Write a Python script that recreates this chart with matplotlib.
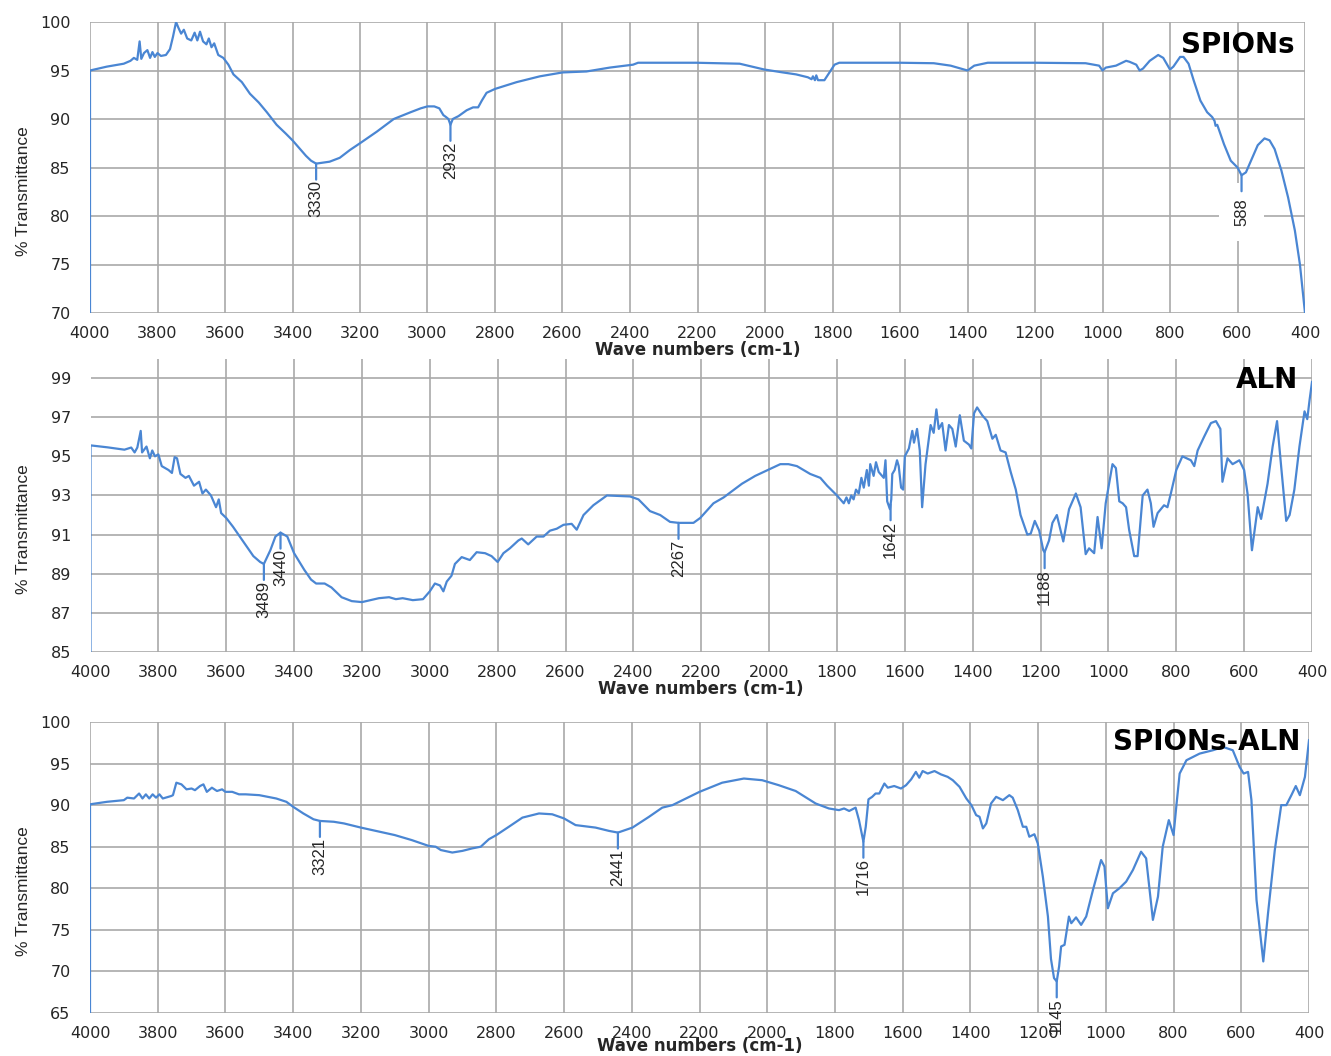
import numpy as np
import matplotlib
matplotlib.use("Agg")
import matplotlib.pyplot as plt

# ---------------------------------------------------------------- data
# FTIR spectra: (wave number in cm-1, % transmittance)
spions_pts = [
    (4000, 0.0), (4000, 95.0), (3950, 95.4), (3900, 95.7), (3880, 96.0), (3870, 96.3),
    (3860, 96.1), (3853, 98.0), (3848, 96.2), (3840, 96.8), (3830, 97.1), (3822, 96.3),
    (3815, 96.9), (3808, 96.4), (3800, 96.8), (3790, 96.5), (3775, 96.6), (3763, 97.2),
    (3754, 98.5), (3745, 100.0), (3738, 99.4), (3730, 98.8), (3722, 99.2), (3712, 98.3),
    (3700, 98.1), (3690, 98.9), (3682, 98.1), (3674, 99.0), (3665, 98.0), (3655, 97.7),
    (3648, 98.3), (3640, 97.4), (3632, 97.8), (3620, 96.6), (3605, 96.3), (3590, 95.6),
    (3575, 94.6), (3550, 93.8), (3526, 92.6), (3500, 91.7), (3476, 90.7), (3447, 89.4),
    (3420, 88.5), (3400, 87.8), (3380, 87.0), (3360, 86.2), (3345, 85.7), (3330, 85.4),
    (3310, 85.5), (3290, 85.6), (3260, 86.0), (3230, 86.8), (3200, 87.5), (3150, 88.7),
    (3100, 90.0), (3050, 90.7), (3020, 91.1), (3000, 91.3), (2980, 91.3), (2965, 91.1),
    (2953, 90.4), (2945, 90.2), (2938, 90.0), (2932, 89.4), (2925, 90.0), (2908, 90.3),
    (2884, 90.9), (2865, 91.2), (2850, 91.2), (2839, 91.9), (2825, 92.7), (2800, 93.1),
    (2736, 93.8), (2667, 94.4), (2600, 94.8), (2529, 94.9), (2460, 95.3), (2391, 95.6),
    (2376, 95.8), (2300, 95.8), (2204, 95.8), (2075, 95.7), (2002, 95.1), (1947, 94.8),
    (1908, 94.6), (1873, 94.3), (1862, 94.1), (1858, 94.4), (1852, 94.0), (1848, 94.5),
    (1843, 94.0), (1839, 94.0), (1824, 94.0), (1809, 94.8), (1794, 95.6), (1780, 95.8),
    (1700, 95.8), (1600, 95.8), (1500, 95.75), (1450, 95.5), (1400, 95.0), (1380, 95.5),
    (1340, 95.8), (1200, 95.8), (1050, 95.75), (1010, 95.5), (1000, 95.0), (990, 95.3),
    (960, 95.5), (930, 96.0), (920, 95.9), (900, 95.6), (890, 95.0), (880, 95.2),
    (860, 96.0), (835, 96.6), (820, 96.3), (800, 95.1), (790, 95.4), (770, 96.4),
    (760, 96.4), (745, 95.7), (730, 94.0), (710, 91.9), (690, 90.7), (675, 90.2),
    (668, 89.8), (665, 89.3), (660, 89.4), (640, 87.4), (620, 85.7), (600, 85.0),
    (588, 84.2), (575, 84.5), (560, 85.7), (540, 87.3), (520, 88.0), (505, 87.8),
    (490, 86.9), (470, 84.7), (450, 81.9), (430, 78.5), (415, 75.0), (400, 70.0),
]

aln_pts = [
    (4000, 0.0), (4000, 95.56), (3950, 95.46), (3900, 95.34), (3880, 95.45), (3870, 95.2),
    (3862, 95.45), (3852, 96.3), (3848, 95.2), (3835, 95.5), (3825, 94.9), (3818, 95.3),
    (3810, 95.0), (3800, 95.1), (3790, 94.5), (3770, 94.3), (3760, 94.15), (3752, 94.96),
    (3745, 94.9), (3735, 94.1), (3720, 93.9), (3710, 94.0), (3695, 93.5), (3680, 93.7),
    (3670, 93.1), (3660, 93.3), (3645, 93.0), (3630, 92.4), (3622, 92.8), (3615, 92.1),
    (3600, 91.85), (3580, 91.4), (3560, 90.9), (3540, 90.4), (3520, 89.9), (3500, 89.6),
    (3489, 89.5), (3470, 90.2), (3455, 90.9), (3440, 91.1), (3420, 90.9), (3400, 90.05),
    (3370, 89.2), (3350, 88.7), (3335, 88.5), (3310, 88.5), (3290, 88.3), (3260, 87.8),
    (3230, 87.6), (3200, 87.55), (3150, 87.75), (3120, 87.8), (3100, 87.7), (3080, 87.75),
    (3050, 87.65), (3020, 87.7), (3000, 88.1), (2985, 88.5), (2970, 88.4), (2960, 88.1),
    (2950, 88.6), (2936, 88.9), (2926, 89.5), (2906, 89.85), (2882, 89.7), (2862, 90.1),
    (2837, 90.05), (2818, 89.9), (2800, 89.6), (2783, 90.05), (2764, 90.3), (2739, 90.7),
    (2729, 90.8), (2710, 90.5), (2685, 90.9), (2665, 90.9), (2646, 91.2), (2626, 91.3),
    (2606, 91.5), (2582, 91.55), (2567, 91.25), (2547, 92.0), (2518, 92.5), (2478, 93.0),
    (2410, 92.95), (2385, 92.8), (2351, 92.2), (2321, 92.0), (2292, 91.65), (2267, 91.6),
    (2223, 91.6), (2203, 91.85), (2164, 92.6), (2134, 92.9), (2080, 93.6), (2041, 94.0),
    (1967, 94.6), (1943, 94.6), (1918, 94.5), (1879, 94.1), (1849, 93.9), (1829, 93.5),
    (1800, 93.0), (1780, 92.6), (1772, 92.9), (1765, 92.6), (1758, 93.0), (1751, 92.8),
    (1744, 93.3), (1736, 93.1), (1728, 93.9), (1721, 93.4), (1712, 94.3), (1706, 93.5),
    (1702, 94.6), (1692, 94.0), (1685, 94.7), (1677, 94.2), (1672, 94.1), (1662, 93.9),
    (1657, 94.8), (1652, 92.7), (1644, 92.3), (1640, 92.8), (1637, 94.1), (1630, 94.3),
    (1623, 94.8), (1618, 94.5), (1611, 93.4), (1605, 93.3), (1600, 95.0), (1588, 95.4),
    (1578, 96.3), (1573, 95.7), (1564, 96.4), (1556, 95.3), (1549, 92.4), (1539, 94.6),
    (1524, 96.6), (1515, 96.2), (1507, 97.4), (1500, 96.4), (1490, 96.7), (1480, 95.3),
    (1470, 96.6), (1460, 96.4), (1450, 95.5), (1438, 97.1), (1426, 95.8), (1411, 95.6),
    (1404, 95.4), (1396, 97.2), (1387, 97.5), (1372, 97.1), (1357, 96.8), (1342, 95.9),
    (1332, 96.1), (1318, 95.3), (1303, 95.2), (1288, 94.2), (1273, 93.3), (1259, 92.0),
    (1239, 91.0), (1229, 91.05), (1217, 91.7), (1204, 91.2), (1192, 90.2), (1188, 90.1),
    (1175, 90.7), (1165, 91.6), (1152, 92.0), (1133, 90.65), (1116, 92.3), (1096, 93.1),
    (1082, 92.4), (1067, 90.0), (1057, 90.3), (1042, 90.05), (1032, 91.9), (1020, 90.3),
    (1008, 92.6), (988, 94.6), (978, 94.4), (968, 92.7), (958, 92.6), (948, 92.4),
    (939, 91.25), (924, 89.9), (914, 89.9), (899, 93.0), (885, 93.3), (875, 92.6),
    (867, 91.4), (855, 92.1), (836, 92.5), (826, 92.4), (816, 93.1), (800, 94.3),
    (782, 95.0), (757, 94.8), (747, 94.5), (737, 95.3), (718, 96.0), (698, 96.7),
    (683, 96.8), (670, 96.4), (664, 93.7), (649, 94.9), (634, 94.6), (614, 94.8),
    (600, 94.3), (590, 93.1), (577, 90.2), (560, 92.4), (550, 91.8), (531, 93.6),
    (516, 95.5), (503, 96.8), (491, 94.5), (476, 91.7), (466, 92.0), (452, 93.3),
    (437, 95.5), (422, 97.3), (414, 96.9), (407, 97.9), (400, 98.8),
]

spions_aln_pts = [
    (4000, 0.0), (4000, 90.1), (3950, 90.4), (3900, 90.6), (3890, 90.9), (3870, 90.8),
    (3855, 91.4), (3845, 90.8), (3835, 91.3), (3825, 90.8), (3815, 91.3), (3805, 90.9),
    (3795, 91.3), (3785, 90.8), (3760, 91.1), (3755, 91.2), (3745, 92.7), (3730, 92.5),
    (3715, 91.9), (3700, 92.0), (3690, 91.8), (3675, 92.3), (3665, 92.5), (3655, 91.6),
    (3640, 92.1), (3625, 91.7), (3610, 91.9), (3600, 91.6), (3580, 91.6), (3560, 91.3),
    (3540, 91.3), (3500, 91.2), (3450, 90.8), (3420, 90.4), (3400, 89.8), (3370, 89.0),
    (3340, 88.3), (3321, 88.1), (3280, 88.0), (3250, 87.8), (3200, 87.3), (3100, 86.4),
    (3050, 85.8), (3000, 85.1), (2979, 85.0), (2964, 84.6), (2930, 84.3), (2900, 84.5),
    (2871, 84.8), (2846, 85.0), (2822, 85.9), (2800, 86.4), (2763, 87.4), (2723, 88.5),
    (2674, 89.0), (2635, 88.9), (2600, 88.4), (2566, 87.6), (2507, 87.3), (2467, 86.9),
    (2441, 86.7), (2398, 87.3), (2349, 88.6), (2310, 89.7), (2280, 90.0), (2200, 91.6),
    (2133, 92.7), (2069, 93.2), (2015, 93.0), (1966, 92.4), (1916, 91.7), (1857, 90.2),
    (1818, 89.6), (1788, 89.4), (1773, 89.6), (1758, 89.3), (1739, 89.7), (1729, 88.2),
    (1716, 85.6), (1709, 87.4), (1701, 90.7), (1690, 91.0), (1680, 91.4), (1669, 91.4),
    (1654, 92.6), (1644, 92.1), (1625, 92.3), (1605, 92.0), (1590, 92.4), (1575, 93.1),
    (1561, 94.0), (1551, 93.3), (1541, 94.1), (1526, 93.8), (1506, 94.1), (1487, 93.7),
    (1467, 93.4), (1452, 93.0), (1432, 92.2), (1412, 90.8), (1397, 90.0), (1383, 88.8),
    (1373, 88.6), (1363, 87.2), (1353, 87.8), (1339, 90.2), (1324, 91.0), (1304, 90.6),
    (1285, 91.2), (1275, 90.9), (1260, 89.4), (1245, 87.4), (1235, 87.4), (1226, 86.2),
    (1211, 86.5), (1201, 85.4), (1186, 81.4), (1171, 76.6), (1162, 71.5), (1153, 69.2),
    (1145, 68.8), (1138, 70.6), (1132, 73.0), (1122, 73.2), (1109, 76.6), (1102, 75.8),
    (1088, 76.5), (1073, 75.6), (1058, 76.6), (1038, 79.8), (1014, 83.4), (1004, 82.6),
    (994, 77.6), (979, 79.4), (960, 80.0), (940, 80.8), (920, 82.2), (896, 84.4),
    (881, 83.6), (861, 76.2), (846, 79.0), (832, 85.0), (814, 88.2), (800, 86.4),
    (792, 89.8), (782, 93.8), (762, 95.4), (723, 96.2), (684, 96.6), (654, 97.0),
    (625, 96.6), (605, 94.6), (593, 93.8), (580, 94.0), (570, 90.6), (555, 78.6),
    (535, 71.2), (521, 77.0), (501, 84.6), (482, 90.0), (467, 90.0), (452, 91.2),
    (439, 92.3), (427, 91.2), (412, 93.4), (400, 97.8),
]

# labelled absorption bands
spions_peaks = [3330, 2932, 588]
aln_peaks = [3489, 3440, 2267, 1642, 1188]
spions_aln_peaks = [3321, 2441, 1716, 1145]

x_ticks = list(range(4000, 399, -200))
spions_yticks = list(range(70, 101, 5))
aln_yticks = list(range(85, 100, 2))
spions_aln_yticks = list(range(65, 101, 5))

# ---------------------------------------------------------------- style
LINE = "#4a86d3"
GRID = "#a9a9a9"
TEXT = "#262626"
TICK_PT = 11.5          # length of the band marker below the curve

fig = plt.figure(figsize=(13.31, 10.56), dpi=100)
W, H = 1331.0, 1056.0

panels = [
    dict(name="SPIONs", pts=spions_pts, peaks=spions_peaks, ylim=(70, 100),
         yticks=spions_yticks, rect=[90 / W, 1 - 313 / H, 1215 / W, 291 / H],
         title_off=(-7.2, -16.5), xlab_off=-26.5, boxed={588}),
    dict(name="ALN", pts=aln_pts, peaks=aln_peaks, ylim=(85, 100),
         yticks=aln_yticks, rect=[90.5 / W, 1 - 652 / H, 1221.5 / W, 293.5 / H],
         title_off=(-10.0, -15.5), xlab_off=-26.5, boxed=set()),
    dict(name="SPIONs-ALN", pts=spions_aln_pts, peaks=spions_aln_peaks, ylim=(65, 100),
         yticks=spions_aln_yticks, rect=[90 / W, 1 - 1013 / H, 1219 / W, 291 / H],
         title_off=(-6.5, -14.4), xlab_off=-24.0, boxed=set()),
]

for p in panels:
    ax = fig.add_axes(p["rect"])
    wn, tr = map(np.array, zip(*p["pts"]))
    ax.plot(wn, tr, color=LINE, lw=1.6, zorder=3, solid_joinstyle="round")

    ax.set_xlim(4000, 400)
    ax.set_ylim(*p["ylim"])
    ax.set_xticks(x_ticks)
    ax.set_yticks(p["yticks"])
    ax.grid(True, color=GRID, lw=1.2)
    ax.set_axisbelow(True)
    for s in ax.spines.values():
        s.set_visible(False)
    ax.tick_params(length=0, labelsize=11.5, labelcolor=TEXT)
    ax.tick_params(axis="x", pad=9.5)
    ax.tick_params(axis="y", pad=14)

    # band markers with rotated wave-number labels
    xs, ys = wn[1:][::-1], tr[1:][::-1]
    for pk in p["peaks"]:
        y0 = np.interp(pk, xs, ys)
        ax.annotate("", xy=(pk, y0), xytext=(0, -TICK_PT), textcoords="offset points",
                    arrowprops=dict(arrowstyle="-", color=LINE, lw=1.6,
                                    shrinkA=0, shrinkB=0),
                    zorder=4, annotation_clip=False)
        kw = {}
        off = -TICK_PT - 0.5
        if pk in p["boxed"]:
            kw["bbox"] = dict(boxstyle="square,pad=0.9", fc="white", ec="none")
            off = -TICK_PT - 5
        ax.annotate(str(pk), xy=(pk, y0), xytext=(0, off), textcoords="offset points",
                    rotation=90, ha="center", va="top", fontsize=12,
                    family="Liberation Sans", color=TEXT, zorder=2.5,
                    annotation_clip=False, **kw)

    ax.annotate(p["name"], xy=(1, 1), xycoords="axes fraction",
                xytext=p["title_off"], textcoords="offset points",
                ha="right", va="center", fontsize=20, fontweight="bold",
                color="black", zorder=6)
    ax.annotate("Wave numbers (cm-1)", xy=(0.5, 0), xycoords="axes fraction",
                xytext=(0, p["xlab_off"]), textcoords="offset points",
                ha="center", va="center", fontsize=12, fontweight="bold", color=TEXT)
    ax.annotate("% Transmittance", xy=(0, 0.42), xycoords="axes fraction",
                xytext=(-48, 0), textcoords="offset points", rotation=90,
                ha="center", va="center", fontsize=12.5, family="Liberation Sans",
                color=TEXT)

fig.savefig("out.png", dpi=100, facecolor="white")
